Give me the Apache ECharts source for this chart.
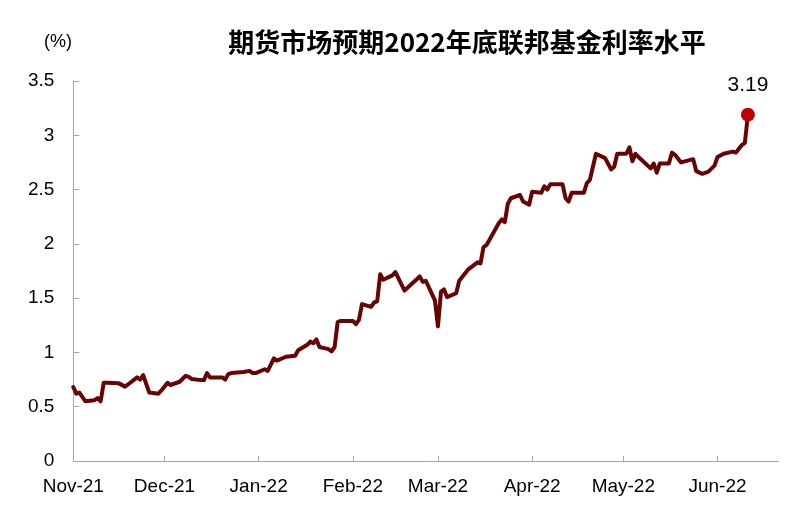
<!DOCTYPE html>
<html>
<head>
<meta charset="utf-8">
<script src="https://cdn.jsdelivr.net/npm/echarts@6/dist/echarts.min.js"></script>
<style>
html,body{margin:0;padding:0;background:#fff;}
#chart{width:812px;height:510px;}
</style>
</head>
<body>
<div id="chart"></div>
<script>
var dates = [
 '2021-11-01','2021-11-02','2021-11-03','2021-11-05','2021-11-08','2021-11-09','2021-11-10','2021-11-11','2021-11-12','2021-11-16',
 '2021-11-18','2021-11-19','2021-11-22','2021-11-23','2021-11-24','2021-11-26','2021-11-29','2021-11-30','2021-12-02','2021-12-03',
 '2021-12-06','2021-12-08','2021-12-09','2021-12-10','2021-12-13','2021-12-14','2021-12-15','2021-12-16','2021-12-20','2021-12-21',
 '2021-12-22','2021-12-23','2021-12-27','2021-12-29','2021-12-30','2021-12-31','2022-01-03','2022-01-04','2022-01-06','2022-01-07',
 '2022-01-10','2022-01-13','2022-01-14','2022-01-17','2022-01-18','2022-01-19','2022-01-20','2022-01-21','2022-01-24','2022-01-25',
 '2022-01-26','2022-01-27','2022-01-28','2022-01-31','2022-02-01','2022-02-02','2022-02-03','2022-02-04','2022-02-07','2022-02-08',
 '2022-02-09','2022-02-10','2022-02-11','2022-02-14','2022-02-15','2022-02-18','2022-02-23','2022-02-24','2022-02-25','2022-02-28',
 '2022-03-01','2022-03-02','2022-03-03','2022-03-04','2022-03-07','2022-03-08','2022-03-11','2022-03-14','2022-03-15','2022-03-16',
 '2022-03-17','2022-03-21','2022-03-22','2022-03-23','2022-03-24','2022-03-25','2022-03-28','2022-03-29','2022-03-31','2022-04-01',
 '2022-04-04','2022-04-05','2022-04-06','2022-04-07','2022-04-11','2022-04-12','2022-04-13','2022-04-14','2022-04-18','2022-04-19',
 '2022-04-20','2022-04-22','2022-04-25','2022-04-27','2022-04-28','2022-04-29','2022-05-02','2022-05-03','2022-05-04','2022-05-05',
 '2022-05-06','2022-05-10','2022-05-11','2022-05-12','2022-05-13','2022-05-16','2022-05-17','2022-05-18','2022-05-20','2022-05-24',
 '2022-05-25','2022-05-27','2022-05-29','2022-05-31','2022-06-01','2022-06-03','2022-06-06','2022-06-07','2022-06-09','2022-06-10',
 '2022-06-11'
];
var rates = [
 0.68,0.62,0.63,0.55,0.56,0.58,0.55,0.72,0.72,0.715,
 0.685,0.705,0.77,0.75,0.79,0.63,0.62,0.65,0.72,0.70,
 0.73,0.785,0.775,0.755,0.745,0.745,0.81,0.77,0.77,0.75,
 0.80,0.81,0.82,0.83,0.81,0.81,0.845,0.83,0.945,0.925,
 0.96,0.97,1.02,1.07,1.10,1.085,1.12,1.05,1.03,1.01,
 1.05,1.28,1.29,1.29,1.29,1.26,1.30,1.445,1.42,1.46,
 1.47,1.72,1.67,1.71,1.74,1.57,1.70,1.65,1.66,1.48,
 1.24,1.56,1.58,1.51,1.545,1.66,1.765,1.83,1.82,1.97,
 1.99,2.19,2.225,2.20,2.37,2.42,2.45,2.39,2.36,2.48,
 2.47,2.53,2.50,2.55,2.55,2.42,2.39,2.47,2.47,2.56,
 2.59,2.83,2.79,2.685,2.71,2.83,2.83,2.89,2.76,2.83,
 2.80,2.695,2.74,2.655,2.74,2.74,2.84,2.82,2.75,2.78,
 2.67,2.645,2.665,2.72,2.80,2.83,2.85,2.84,2.91,2.93,
 3.19
];
var monthTicks = ['2021-11-01','2021-12-01','2022-01-01','2022-02-01','2022-03-01','2022-04-01','2022-05-01','2022-06-01'];
var yTicks = [0,0.5,1,1.5,2,2.5,3,3.5];
var titleText = '期货市场预期2022年底联邦基金利率水平';
var unitText = '(%)';
var axisStart = '2021-11-01';
var axisEnd = '2022-06-21';

function ts(s){var p=s.split('-');return Date.UTC(+p[0],+p[1]-1,+p[2]);}
var monNames=['Jan','Feb','Mar','Apr','May','Jun','Jul','Aug','Sep','Oct','Nov','Dec'];
var lineData = dates.map(function(d,i){return [ts(d), rates[i]];});
var last = lineData[lineData.length-1];
var tickVals = monthTicks.map(ts);

var chart = echarts.init(document.getElementById('chart'), null, {renderer:'canvas'});
chart.setOption({
  animation:false,
  backgroundColor:'#fff',
  title:[{
    text:titleText, left:462, top:24, textAlign:'center',
    textStyle:{fontFamily:'Noto Sans CJK SC', fontWeight:'bold', fontSize:26, color:'#000'}
  },{
    text:unitText, left:39, top:28,
    textStyle:{fontFamily:'Liberation Sans', fontWeight:'normal', fontSize:18, color:'#000'}
  }],
  grid:{left:73.3, right:33.7, top:81, bottom:49, containLabel:false, outerBoundsMode:'none'},
  xAxis:{
    type:'value', min:ts(axisStart), max:ts(axisEnd),
    axisLine:{show:true, lineStyle:{color:'#A6A6A6', width:1}},
    axisTick:{show:true, inside:true, length:5, lineStyle:{color:'#A6A6A6'}, customValues:tickVals},
    axisLabel:{
      customValues:tickVals, margin:16, fontFamily:'Liberation Sans', fontSize:19, color:'#000',
      hideOverlap:false,
      formatter:function(v){var d=new Date(v);return monNames[d.getUTCMonth()]+'-'+String(d.getUTCFullYear()).slice(2);}
    },
    splitLine:{show:false}
  },
  yAxis:{
    type:'value', min:yTicks[0], max:yTicks[yTicks.length-1], interval:0.5,
    axisLine:{show:true, lineStyle:{color:'#A6A6A6', width:1}},
    axisTick:{show:true, inside:true, length:6, lineStyle:{color:'#A6A6A6'}},
    axisLabel:{margin:19, fontFamily:'Liberation Sans', fontSize:19, color:'#000'},
    splitLine:{show:false}
  },
  series:[{
    type:'line', data:lineData, showSymbol:false, symbol:'none',
    lineStyle:{color:'#680404', width:4, join:'round', cap:'round'},
    z:2
  },{
    type:'scatter', data:[last], symbol:'circle', symbolSize:14,
    itemStyle:{color:'#C00000', opacity:1},
    label:{show:true, position:'top', distance:12, formatter:function(p){return p.value[1].toFixed(2);},
      fontFamily:'Liberation Sans', fontSize:21, color:'#000'},
    z:3
  }]
});
</script>
</body>
</html>
